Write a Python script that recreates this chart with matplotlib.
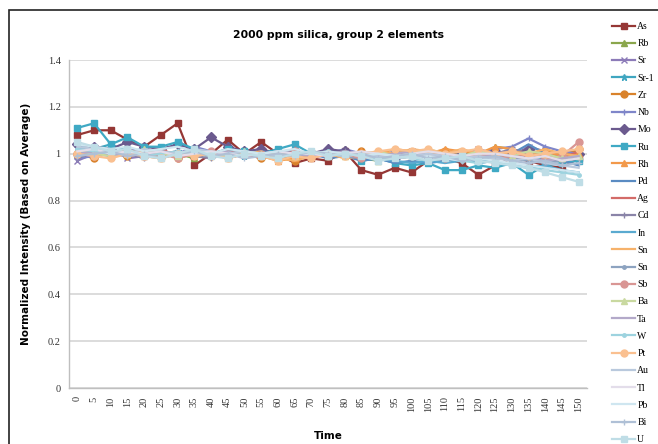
#!/usr/bin/env python3

import matplotlib
matplotlib.use("Agg")
import matplotlib.pyplot as plt
from matplotlib.patches import Rectangle

times = list(range(0, 155, 5))

elements = ["As", "Rb", "Sr", "Sr-1", "Zr", "Nb", "Mo", "Ru", "Rh", "Pd", "Ag", "Cd",
            "In", "Sn", "Sn", "Sb", "Ba", "Ta", "W", "Pt", "Au", "Tl", "Pb", "Bi", "U"]

As = [1.08, 1.10, 1.10, 1.06, 1.03, 1.08, 1.13, 0.95, 1.00, 1.06, 1.00, 1.05, 1.00, 0.96, 0.98, 0.97,
      1.01, 0.93, 0.91, 0.94, 0.92, 0.97, 0.98, 0.96, 0.91, 0.95, 0.98, 0.97, 0.95, 0.94, 0.98]
Rb = [1.00, 1.01, 0.99, 1.00, 1.02, 0.99, 1.00, 0.98, 1.01, 0.99, 1.00, 1.01, 0.99, 0.98, 1.00, 0.99,
      1.02, 0.98, 0.97, 0.99, 0.98, 1.00, 0.99, 1.01, 0.99, 1.03, 1.02, 1.00, 0.99, 0.98, 0.99]
Sr = [0.97, 1.00, 1.02, 0.98, 0.99, 1.00, 0.99, 1.01, 1.00, 0.98, 1.00, 0.99, 1.01, 1.00, 0.99, 1.00,
      1.01, 0.99, 1.00, 0.99, 1.01, 1.00, 0.98, 1.00, 1.02, 1.00, 0.99, 1.03, 1.01, 1.00, 0.99]
Sr1 = [1.03, 1.02, 1.04, 1.01, 1.02, 1.00, 1.01, 0.99, 1.00, 1.01, 0.99, 1.00, 1.01, 0.99, 1.00, 1.00,
       0.99, 1.00, 0.98, 0.99, 1.00, 0.99, 1.01, 0.99, 0.98, 1.00, 1.01, 0.99, 0.98, 1.00, 1.01]
Zr = [1.00, 0.98, 1.01, 0.99, 1.00, 1.01, 0.98, 1.00, 0.99, 1.02, 1.00, 0.98, 1.00, 0.97, 1.00, 0.99,
      1.00, 1.01, 0.99, 1.00, 0.99, 1.00, 1.01, 0.99, 1.00, 0.98, 0.99, 1.00, 1.01, 0.99, 1.02]
Nb = [0.98, 0.99, 1.00, 1.02, 1.01, 0.99, 1.00, 1.03, 1.01, 1.00, 0.99, 1.00, 1.00, 1.01, 0.99, 1.00,
      1.02, 1.00, 0.99, 1.01, 1.00, 0.99, 1.00, 1.01, 1.00, 1.02, 1.03, 1.065, 1.03, 1.01, 1.00]
Mo = [1.04, 1.03, 1.02, 1.05, 1.03, 1.02, 1.04, 1.02, 1.07, 1.03, 1.01, 1.02, 1.00, 1.01, 1.00, 1.02,
      1.01, 0.99, 1.00, 0.98, 1.00, 0.99, 0.98, 1.00, 0.99, 1.01, 1.00, 1.02, 0.99, 0.98, 1.00]
Ru = [1.11, 1.13, 1.04, 1.07, 1.03, 1.03, 1.05, 1.02, 1.00, 1.02, 1.01, 1.00, 1.02, 1.04, 1.00, 0.99,
      1.00, 0.97, 0.98, 0.96, 0.95, 0.96, 0.93, 0.93, 0.95, 0.94, 0.96, 0.91, 0.95, 0.96, 0.97]
Rh = [1.01, 0.99, 1.00, 1.02, 0.99, 0.98, 1.00, 0.99, 1.01, 0.98, 1.00, 0.99, 0.97, 0.98, 0.99, 1.00,
      0.99, 1.01, 1.00, 1.02, 1.01, 1.00, 1.02, 1.01, 1.00, 1.03, 1.02, 1.00, 1.01, 0.99, 1.00]
Pd = [1.02, 1.01, 1.00, 0.99, 1.01, 1.00, 0.99, 1.00, 1.01, 1.00, 0.99, 1.01, 1.00, 0.99, 1.00, 0.98,
      0.99, 0.97, 0.98, 0.96, 0.97, 0.96, 0.97, 0.98, 0.96, 0.97, 1.00, 1.04, 1.00, 0.97, 0.95]
Ag = [0.99, 1.00, 1.01, 0.99, 1.00, 1.02, 0.99, 1.00, 0.99, 1.01, 1.00, 0.98, 1.00, 0.99, 0.98, 1.00,
      0.99, 0.98, 1.00, 0.99, 0.98, 0.99, 1.00, 0.98, 1.00, 0.99, 0.97, 0.99, 1.00, 0.98, 1.01]
Cd = [0.98, 1.01, 0.99, 1.00, 0.98, 1.00, 1.01, 0.99, 0.98, 1.00, 1.01, 0.99, 1.00, 1.02, 0.99, 1.00,
      1.01, 0.99, 0.98, 1.00, 0.99, 1.01, 1.00, 0.98, 0.99, 1.00, 1.02, 1.00, 0.98, 0.97, 0.98]
In = [1.01, 1.00, 0.99, 1.01, 1.00, 0.99, 1.00, 1.01, 0.99, 1.00, 1.00, 0.99, 1.01, 1.00, 0.99, 1.01,
      1.00, 0.99, 0.98, 0.97, 0.96, 0.97, 0.96, 0.97, 0.98, 0.96, 0.95, 0.94, 0.95, 0.93, 0.92]
Sn = [1.00, 1.02, 0.99, 1.00, 1.01, 0.98, 1.00, 0.99, 1.00, 0.98, 1.00, 1.01, 0.98, 0.97, 0.99, 1.00,
      0.98, 0.99, 1.01, 1.00, 1.02, 1.01, 1.00, 1.02, 1.00, 0.99, 1.01, 1.00, 1.02, 1.00, 0.99]
Sn_b = [0.99, 1.00, 1.01, 1.00, 0.99, 1.01, 1.00, 1.00, 0.99, 1.00, 1.01, 1.00, 0.99, 1.00, 1.01, 1.00,
        0.99, 0.98, 0.99, 0.98, 0.99, 1.00, 0.98, 0.99, 0.97, 0.99, 0.98, 0.97, 0.96, 0.97, 0.98]
Sb = [1.00, 0.99, 1.00, 1.01, 0.99, 1.00, 0.98, 1.00, 1.01, 0.99, 1.00, 1.00, 0.99, 1.01, 1.00, 0.99,
      1.00, 0.98, 0.99, 1.00, 0.99, 1.00, 0.98, 0.99, 1.00, 0.98, 0.99, 1.00, 0.98, 0.99, 1.05]
Ba = [1.01, 1.00, 0.99, 1.00, 1.02, 1.00, 0.99, 1.01, 1.00, 0.99, 1.01, 1.00, 1.00, 0.99, 1.01, 1.00,
      0.99, 1.00, 1.01, 0.99, 1.00, 1.02, 1.00, 0.99, 1.01, 1.00, 0.99, 1.01, 1.00, 0.98, 0.99]
Ta = [1.00, 1.01, 1.00, 0.99, 1.00, 1.01, 1.00, 0.99, 1.00, 1.01, 0.99, 1.00, 1.01, 1.00, 0.99, 1.00,
      1.01, 1.00, 0.99, 1.00, 1.01, 0.99, 1.00, 0.99, 0.98, 1.00, 0.99, 0.98, 0.97, 0.98, 0.99]
W = [1.02, 1.01, 1.00, 1.01, 0.99, 1.00, 1.01, 1.00, 0.99, 1.00, 1.01, 1.00, 0.99, 1.00, 1.00, 1.01,
     0.99, 1.00, 0.98, 0.99, 0.98, 0.97, 0.98, 0.97, 0.96, 0.97, 0.95, 0.94, 0.93, 0.92, 0.91]
Pt = [1.00, 0.99, 0.98, 1.00, 0.99, 0.98, 1.00, 0.99, 1.00, 0.98, 1.00, 0.99, 0.97, 0.99, 0.98, 1.00,
      0.99, 1.00, 1.01, 1.02, 1.01, 1.02, 1.00, 1.01, 1.02, 1.00, 1.01, 0.99, 1.00, 1.01, 1.02]
Au = [1.03, 1.02, 1.01, 1.00, 1.02, 1.01, 1.00, 1.02, 1.01, 1.00, 1.01, 1.00, 0.99, 1.00, 1.01, 1.00,
      0.99, 1.00, 0.99, 0.98, 0.99, 1.00, 0.99, 0.98, 0.99, 0.98, 0.97, 0.98, 0.96, 0.95, 0.94]
Tl = [1.01, 1.02, 1.00, 1.01, 1.00, 1.01, 0.99, 1.00, 1.01, 1.00, 0.99, 1.00, 1.01, 1.00, 1.00, 0.99,
      1.00, 1.01, 1.00, 0.99, 1.00, 1.01, 1.00, 0.99, 1.00, 1.00, 0.99, 0.98, 0.99, 0.97, 0.98]
Pb = [1.04, 1.03, 1.02, 1.03, 1.01, 1.02, 1.03, 1.01, 1.00, 1.02, 1.01, 1.00, 1.01, 1.02, 1.00, 1.01,
      1.00, 0.99, 1.00, 0.99, 0.98, 0.99, 0.98, 0.97, 0.98, 0.97, 0.96, 0.95, 0.94, 0.93, 0.92]
Bi = [0.99, 1.00, 1.01, 0.99, 1.00, 0.98, 1.00, 1.01, 0.99, 1.00, 0.98, 0.99, 1.00, 0.99, 1.01, 1.00,
      0.99, 1.00, 0.98, 0.99, 1.00, 0.98, 0.99, 0.97, 0.98, 0.99, 0.97, 0.96, 0.97, 0.95, 0.96]
U = [1.05, 1.03, 1.01, 1.02, 0.99, 0.98, 1.00, 1.02, 0.99, 0.98, 1.00, 0.99, 0.98, 1.00, 1.01, 0.99,
     1.00, 0.99, 0.97, 0.98, 0.99, 0.97, 0.98, 0.99, 0.97, 0.96, 0.95, 0.94, 0.92, 0.90, 0.88]

series = [As, Rb, Sr, Sr1, Zr, Nb, Mo, Ru, Rh, Pd, Ag, Cd,
          In, Sn, Sn_b, Sb, Ba, Ta, W, Pt, Au, Tl, Pb, Bi, U]

# excel-ish colours and markers, one per series
styles = [
    ("#953735", "s"), ("#8AA64C", "^"), ("#8C7BB8", "x"), ("#3FA6C0", "*"),
    ("#D9822B", "o"), ("#7F86C9", "+"), ("#6B5A8E", "D"), ("#3FA9C4", "s"),
    ("#F2994A", "^"), ("#5A8BC2", ""), ("#D36B68", ""), ("#8A84A8", "+"),
    ("#5AAAD0", ""), ("#F6B26B", ""), ("#8DA3C0", "."), ("#D99694", "o"),
    ("#C9D9A0", "^"), ("#B3A9C9", ""), ("#9DD3DF", "."), ("#FAC090", "o"),
    ("#B9C9DD", ""), ("#E3DDEA", ""), ("#CFE6F0", ""), ("#AFC0D6", "+"),
    ("#BFDDE6", "s"),
]

fig = plt.figure(figsize=(6.58, 4.44), dpi=100)
ax = fig.add_axes([69 / 658, 1 - 388 / 444, 518 / 658, 328 / 444])

for name, vals, (col, mk) in zip(elements, series, styles):
    ax.plot(times, vals, color=col, marker=mk if mk else None, markersize=5,
            markeredgewidth=1.0, linewidth=1.6, label=name)

ax.set_xlim(-2.5, 152.5)
ax.set_ylim(0, 1.4)
ax.set_yticks([0, 0.2, 0.4, 0.6, 0.8, 1.0, 1.2, 1.4])
ax.set_yticklabels(["0", "0.2", "0.4", "0.6", "0.8", "1", "1.2", "1.4"],
                   fontsize=7.5, family="Liberation Serif", color="#333333")
ax.set_xticks(times)
ax.set_xticklabels([str(t) for t in times], rotation=90, fontsize=7.5,
                   family="Liberation Serif", color="#333333")
ax.tick_params(length=0, pad=6)
ax.grid(axis="y", color="#D9D9D9", linewidth=1.3)
ax.set_axisbelow(True)
for s in ["top", "right"]:
    ax.spines[s].set_visible(False)
for s in ["left", "bottom"]:
    ax.spines[s].set_color("#BFBFBF")
    ax.spines[s].set_linewidth(1.0)

ax.set_title("2000 ppm silica, group 2 elements", fontsize=7.8, fontweight="bold",
             pad=16, x=0.52)
ax.set_xlabel("Time", fontsize=7.5, fontweight="bold", labelpad=14)
ax.set_ylabel("Normalized Intensity (Based on Average)", fontsize=7.5,
              fontweight="bold", labelpad=12)

leg = fig.legend(loc="upper left", bbox_to_anchor=(612 / 658, 1 - 22 / 444),
                 frameon=False, prop={"family": "Liberation Serif", "size": 7},
                 handlelength=2.4, handletextpad=0.2, labelspacing=0.845,
                 borderpad=0, borderaxespad=0)

# chart border, cut off at the right and bottom edges
fig.patches.append(Rectangle((9 / 658, -0.05), 1.1, 1 - 10 / 444 + 0.05,
                             transform=fig.transFigure, fill=False,
                             edgecolor="#222222", linewidth=1.2))

fig.savefig("out.png", dpi=100)
